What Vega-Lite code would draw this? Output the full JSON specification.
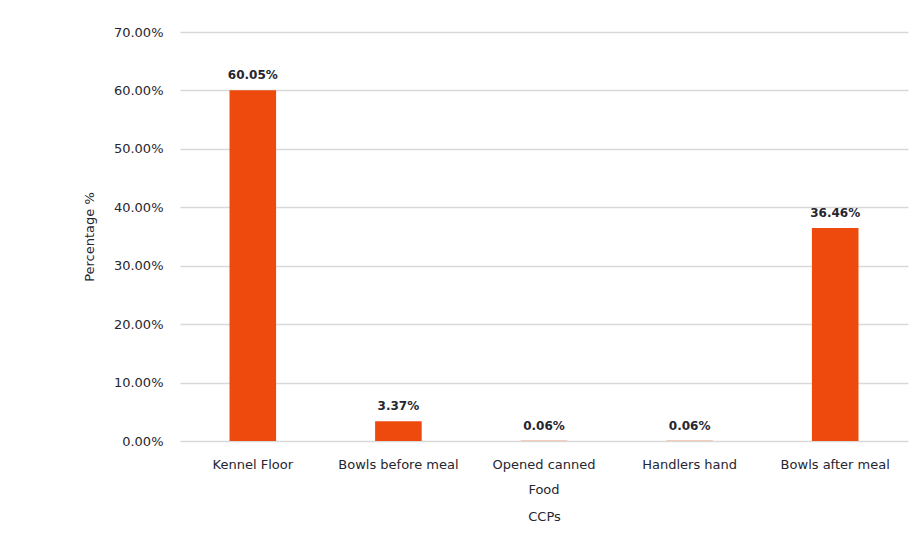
{
  "$schema": "https://vega.github.io/schema/vega-lite/v6.json",
  "width": 728,
  "height": 409,
  "autosize": {"type": "none"},
  "padding": {"left": 180, "top": 32, "right": 14, "bottom": 105},
  "background": "white",
  "data": {
    "values": [
      {"ccp": "Kennel Floor", "share": 0.6005},
      {"ccp": "Bowls before meal", "share": 0.0337},
      {"ccp": "Opened canned Food", "share": 0.0006},
      {"ccp": "Handlers hand", "share": 0.0006},
      {"ccp": "Bowls after meal", "share": 0.3646}
    ]
  },
  "encoding": {
    "x": {
      "field": "ccp",
      "type": "nominal",
      "sort": null,
      "title": "CCPs",
      "scale": {"paddingInner": 0.68, "paddingOuter": 0.34},
      "axis": {
        "labelAngle": 0,
        "domain": false,
        "ticks": false,
        "labelPadding": 17,
        "labelLineHeight": 25,
        "labelExpr": "datum.value == 'Opened canned Food' ? ['Opened canned', 'Food'] : datum.value",
        "titlePadding": 14
      }
    },
    "y": {
      "field": "share",
      "type": "quantitative",
      "title": "Percentage %",
      "scale": {"domain": [0, 0.7]},
      "axis": {
        "format": ".2%",
        "values": [0, 0.1, 0.2, 0.3, 0.4, 0.5, 0.6, 0.7],
        "domain": false,
        "ticks": false,
        "labelPadding": 17,
        "titlePadding": 17
      }
    }
  },
  "layer": [
    {"mark": {"type": "bar", "color": "#EE4A0E"}},
    {
      "mark": {
        "type": "text",
        "baseline": "bottom",
        "dy": -8,
        "fontSize": 12,
        "fontWeight": "bold",
        "color": "#262630",
        "font": "DejaVu Sans"
      },
      "encoding": {"text": {"field": "share", "type": "quantitative", "format": ".2%"}}
    }
  ],
  "config": {
    "view": {"stroke": null},
    "axis": {
      "labelFont": "DejaVu Sans",
      "titleFont": "DejaVu Sans",
      "labelFontSize": 13,
      "titleFontSize": 13,
      "titleFontWeight": "normal",
      "labelColor": "#262630",
      "titleColor": "#262630",
      "gridColor": "#d9d9d9",
      "gridWidth": 1.5
    }
  }
}
